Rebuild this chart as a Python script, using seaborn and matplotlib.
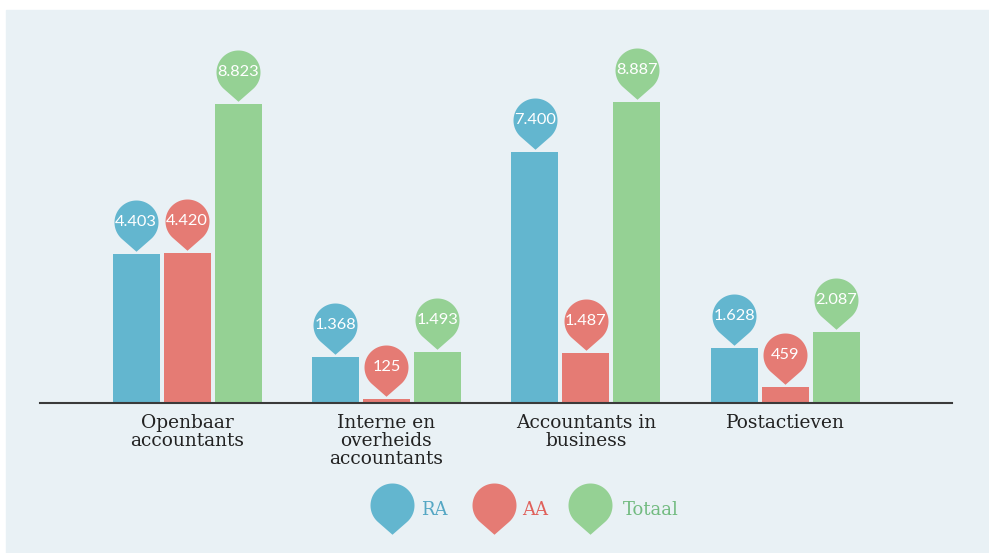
import numpy as np
import pandas as pd
import matplotlib.pyplot as plt
import seaborn as sns
import matplotlib.transforms as mtransforms
from matplotlib.path import Path
from matplotlib.patches import Rectangle

# Data
categories = ["Openbaar\naccountants", "Interne en\noverheids\naccountants",
              "Accountants in\nbusiness", "Postactieven"]
groups = ["RA", "AA", "Totaal"]
ra = [4403, 1368, 7400, 1628]
aa = [4420, 125, 1487, 459]
totaal = [8823, 1493, 8887, 2087]

colors = ["#63b6cf", "#e57b74", "#95d194"]
text_colors = ["#55a7c4", "#e0605a", "#72bb80"]
bg = "#e9f1f5"

df = pd.DataFrame({
    "categorie": categories * 3,
    "groep": np.repeat(groups, len(categories)),
    "aantal": ra + aa + totaal,
})


def fmt(v):
    return f"{v:,}".replace(",", ".")


# pin shape: circle with a point at the bottom
t = 1.33
a = np.degrees(np.arccos(1 / t))
theta = np.radians(np.linspace(-90 + a, 270 - a, 80))
verts = [(0, -t)] + list(zip(np.cos(theta), np.sin(theta))) + [(0, -t)]
pin = Path(verts, closed=True)
pin_size = (22 * 0.72 / (0.5 / t)) ** 2

W, H = 989, 553
fig = plt.figure(figsize=(W / 100, H / 100), dpi=100, facecolor="white")
fig.patches.append(Rectangle((6 / W, 0), 1, 1 - 10 / H, transform=fig.transFigure,
                             color=bg, zorder=-1))
ax = fig.add_axes([40 / W, 150 / H, (952 - 40) / W, (H - 10 - 150) / H])
ax.set_facecolor("none")

sns.barplot(data=df, x="categorie", y="aantal", hue="groep", palette=colors,
            width=0.767, gap=0.078, saturation=1, legend=False, ax=ax)

# pins with values
offset = mtransforms.offset_copy(ax.transData, fig=fig, x=0, y=32, units="dots")
for container, col, vals in zip(ax.containers, colors, [ra, aa, totaal]):
    xs = [b.get_x() + b.get_width() / 2 for b in container]
    ax.scatter(xs, vals, marker=pin, s=pin_size, color=col, linewidths=0,
               transform=offset, clip_on=False, zorder=3)
    for x, v in zip(xs, vals):
        ax.text(x, v, fmt(v), transform=offset, ha="center", va="center",
                color="white", fontsize=11.8, family="Lato", zorder=4)

ax.set_ylim(0, 8887 * (H - 10 - 150) / 301)
ax.set_xlim(-0.737, 3.835)
ax.set_yticks([])
ax.set_xlabel("")
ax.set_ylabel("")
for s in ["top", "left", "right"]:
    ax.spines[s].set_visible(False)
ax.spines["bottom"].set_color("#3a3a3a")
ax.spines["bottom"].set_linewidth(1.5)
ax.tick_params(axis="x", length=0, pad=8, labelsize=13.4, labelcolor="#222222")
for lbl in ax.get_xticklabels():
    lbl.set_fontfamily("DejaVu Serif")
    lbl.set_linespacing(0.98)

# legend
leg_x = [392, 494, 590]
txt_x = [421, 522, 623]
for i, g in enumerate(groups):
    ax.scatter([leg_x[i] / W], [1 - 505 / H], marker=pin, s=pin_size, color=colors[i],
               linewidths=0, transform=fig.transFigure, clip_on=False)
    fig.text(txt_x[i] / W, 1 - 515 / H, g, color=text_colors[i], fontsize=13,
             family="DejaVu Serif", va="baseline", ha="left")

plt.savefig("out.png", dpi=100, facecolor="white")
